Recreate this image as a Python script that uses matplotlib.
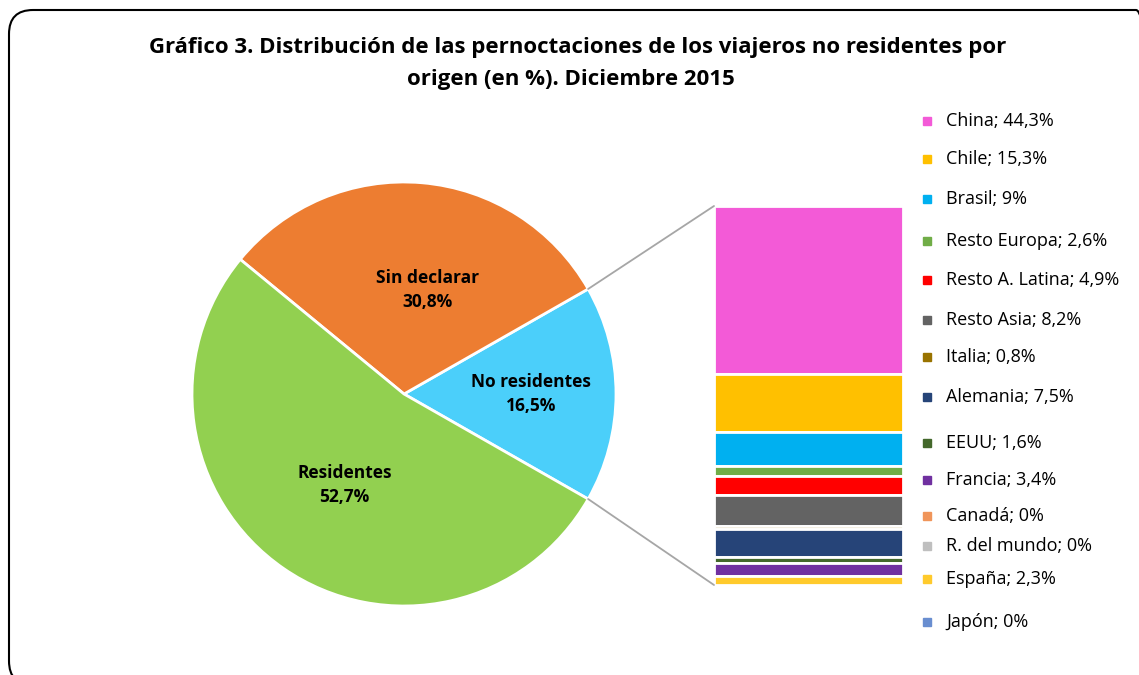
import numpy as np
import matplotlib
matplotlib.use('Agg')
import matplotlib.pyplot as plt
from matplotlib.patches import FancyBboxPatch, ConnectionPatch

plt.rcParams['font.family'] = ['Open Sans', 'DejaVu Sans']

# Pie data
pie_labels = ['No residentes', 'Sin declarar', 'Residentes']
pie_values = [16.5, 30.8, 52.7]
pie_colors = ['#4BCFFA', '#ED7D31', '#92D050']

# Breakdown of non residents (top of bar first)
origins = ['China', 'Chile', 'Brasil', 'Resto Europa', 'Resto A. Latina', 'Resto Asia',
           'Italia', 'Alemania', 'EEUU', 'Francia', 'Canadá', 'R. del mundo', 'España', 'Japón']
origin_values = [44.3, 15.3, 9, 2.6, 4.9, 8.2, 0.8, 7.5, 1.6, 3.4, 0, 0, 2.3, 0]
origin_labels = ['44,3%', '15,3%', '9%', '2,6%', '4,9%', '8,2%', '0,8%', '7,5%',
                 '1,6%', '3,4%', '0%', '0%', '2,3%', '0%']
origin_colors = ['#F35AD7', '#FFC000', '#00B0F0', '#70AD47', '#FF0000', '#636363',
                 '#997300', '#264478', '#43682B', '#7030A0', '#F0955A', '#BFBFBF',
                 '#FFCA2C', '#698ED0']

W, H = 1139, 675
fig = plt.figure(figsize=(W / 100, H / 100), dpi=100)

# rounded border, partly cut off on the right and bottom
x0, x1, y0, y1, rad = 9, 1160, -10, H - 10, 24
border = FancyBboxPatch((x0 / W, y0 / H), (x1 - x0) / W, (y1 - y0) / H,
                        boxstyle=f'round,pad=0,rounding_size={rad / W}',
                        mutation_aspect=W / H, transform=fig.transFigure, fill=False,
                        edgecolor='black', linewidth=1.5)
fig.patches.append(border)

fig.text(578 / W, 1 - 47 / H,
         'Gráfico 3. Distribución de las pernoctaciones de los viajeros no residentes por',
         ha='center', va='center', fontsize=16, fontweight='bold')
fig.text(571 / W, 1 - 80 / H, 'origen (en %). Diciembre 2015',
         ha='center', va='center', fontsize=16, fontweight='bold')

# pie
cx, cy, r = 404, 394, 212
ax_pie = fig.add_axes([(cx - r) / W, (H - cy - r) / H, 2 * r / W, 2 * r / H])
start = -pie_values[0] / 100 * 360 / 2
wedges, _ = ax_pie.pie(pie_values, colors=pie_colors, startangle=start, counterclock=True,
                       wedgeprops=dict(edgecolor='white', linewidth=2))
ax_pie.set_xlim(-1, 1)
ax_pie.set_ylim(-1, 1)
ax_pie.set_aspect('equal')

label_pos = [(0.60, 0.0), (0.11, 0.49), (-0.28, -0.43)]
for name, val, (lx, ly) in zip(pie_labels, pie_values, label_pos):
    ax_pie.text(lx, ly, f'{name}\n{val:.1f}%'.replace('.', ','), ha='center', va='center',
                fontsize=12.5, fontweight='bold', linespacing=1.45)

# stacked bar
bx0, bx1, by0, by1 = 714, 903, 206, 585
ax_bar = fig.add_axes([bx0 / W, (H - by1) / H, (bx1 - bx0) / W, (by1 - by0) / H])
total = sum(origin_values)
bottom = total
for v, c in zip(origin_values, origin_colors):
    bottom -= v
    if v > 0:
        ax_bar.bar(0, v, bottom=bottom, width=1, color=c, edgecolor='white', linewidth=2)
ax_bar.set_xlim(-0.5, 0.5)
ax_bar.set_ylim(0, total)
ax_bar.axis('off')

# connector lines
theta = np.deg2rad(pie_values[0] / 100 * 360 / 2)
for sgn, yb in [(1, total), (-1, 0)]:
    con = ConnectionPatch(xyA=(np.cos(theta), sgn * np.sin(theta)), coordsA=ax_pie.transData,
                          xyB=(-0.5, yb), coordsB=ax_bar.transData,
                          color='#A6A6A6', linewidth=1.3)
    fig.add_artist(con)

# legend
leg_y = [121, 159, 199, 241, 280, 320, 357, 397, 443, 480, 516, 546, 579, 622]
for name, lab, c, y in zip(origins, origin_labels, origin_colors, leg_y):
    fig.patches.append(plt.Rectangle((923 / W, 1 - (y + 4) / H), 8 / W, 8 / H,
                                     transform=fig.transFigure, color=c))
    fig.text(946 / W, 1 - y / H, f'{name}; {lab}', ha='left', va='center', fontsize=13)

fig.savefig('out.png', dpi=100)
